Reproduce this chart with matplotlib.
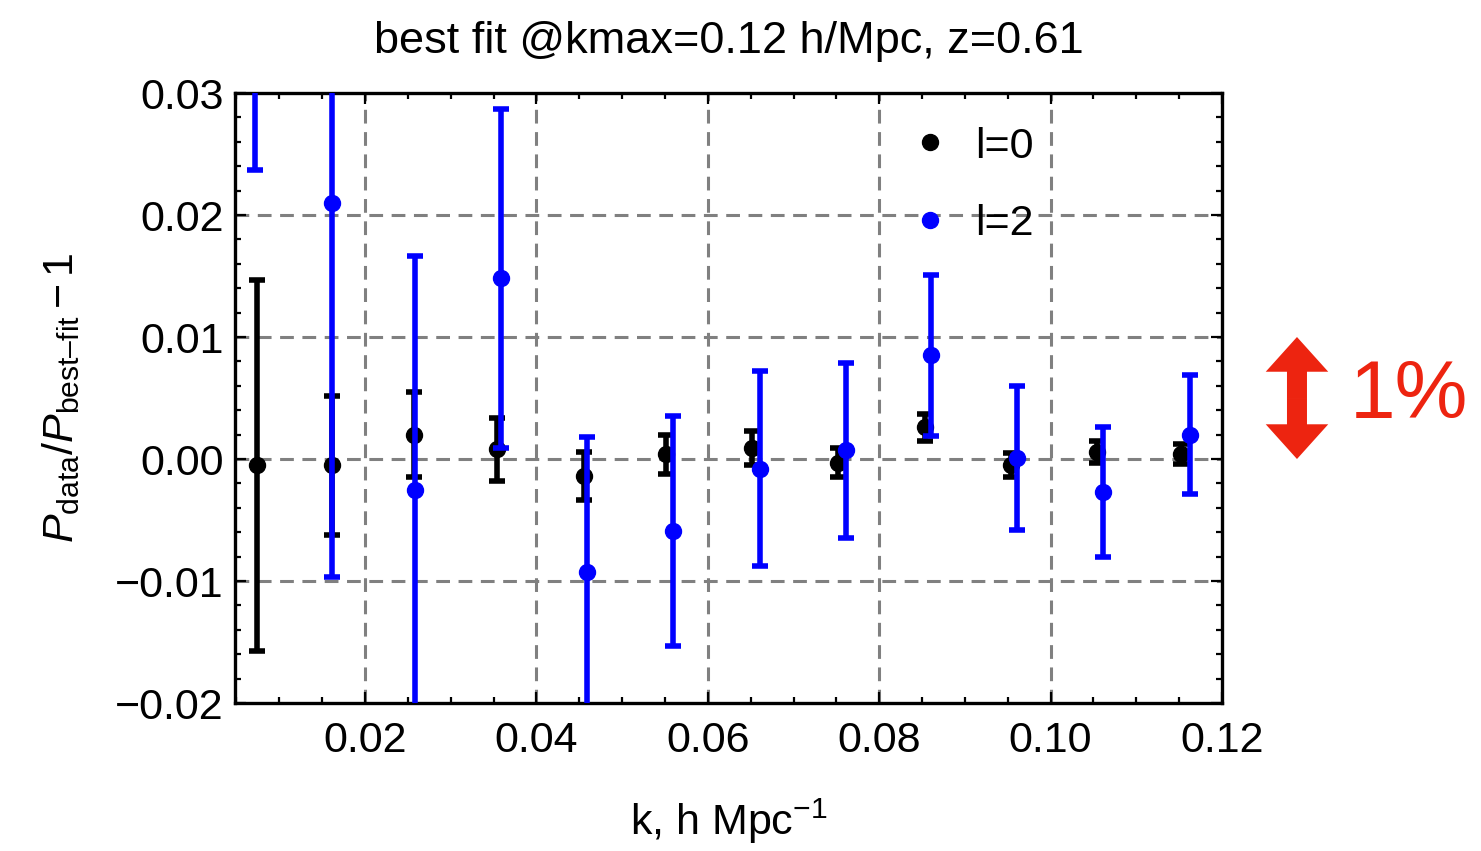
import matplotlib
matplotlib.use("Agg")
import matplotlib.pyplot as plt
from matplotlib.ticker import MultipleLocator, FuncFormatter
from matplotlib.patches import FancyArrowPatch
from matplotlib.transforms import blended_transform_factory

plt.rcParams['font.family'] = ['Liberation Sans', 'DejaVu Sans']
plt.rcParams['mathtext.fontset'] = 'custom'
plt.rcParams['mathtext.rm'] = 'Liberation Sans'
plt.rcParams['mathtext.it'] = 'Liberation Sans:italic'

# l=0 monopole residuals
k_l0 = [0.0074, 0.0161, 0.0257, 0.0354, 0.0456, 0.0551, 0.0652, 0.0752, 0.0854, 0.0954, 0.1054, 0.1152]
res_l0 = [-0.0005, -0.0005, 0.0020, 0.0008, -0.0014, 0.0004, 0.0009, -0.0003, 0.0026, -0.0005, 0.0006, 0.0004]
err_l0 = [0.0152, 0.0057, 0.0035, 0.0026, 0.0020, 0.0016, 0.0014, 0.0012, 0.0011, 0.0010, 0.0009, 0.0008]

# l=2 quadrupole residuals
k_l2 = [0.0072, 0.0161, 0.0258, 0.0359, 0.0459, 0.0559, 0.0661, 0.0761, 0.0861, 0.0961, 0.1061, 0.1163]
res_l2 = [0.0400, 0.0210, -0.0025, 0.0148, -0.0093, -0.0059, -0.0008, 0.0007, 0.0085, 0.0001, -0.0027, 0.0020]
err_l2 = [0.0163, 0.0307, 0.0191, 0.0139, 0.0111, 0.0094, 0.0080, 0.0072, 0.0066, 0.0059, 0.0053, 0.0049]

xticks = [0.02, 0.04, 0.06, 0.08, 0.10, 0.12]
yticks = [-0.02, -0.01, 0.00, 0.01, 0.02, 0.03]

fig = plt.figure(figsize=(14.81, 8.51), dpi=100)
ax = fig.add_axes([0.1587, 0.1739, 0.6664, 0.7168])

ax.errorbar(k_l0, res_l0, yerr=err_l0, fmt='o', color='black', ms=11.5,
            elinewidth=4.0, capsize=6, capthick=4.0, zorder=3)
ax.errorbar(k_l2, res_l2, yerr=err_l2, fmt='o', color='blue', ms=11.5,
            elinewidth=4.0, capsize=6, capthick=4.0, zorder=4)

ax.set_xlim(0.00483, 0.12)
ax.set_ylim(-0.02, 0.03)
ax.set_xticks(xticks)
ax.set_yticks(yticks)
ax.xaxis.set_minor_locator(MultipleLocator(0.005))
ax.yaxis.set_minor_locator(MultipleLocator(0.002))
fmt = FuncFormatter(lambda v, p: f"{v:.2f}".replace('-', '\u2212') if abs(v) > 1e-9 else "0.00")
ax.xaxis.set_major_formatter(fmt)
ax.yaxis.set_major_formatter(fmt)
ax.tick_params(which='both', direction='in', top=True, right=True, width=1.6,
               labelsize=31, colors='black')
ax.tick_params(which='major', length=8)
ax.tick_params(which='minor', length=4.5)
ax.tick_params(axis='x', pad=13)
ax.tick_params(axis='y', pad=8)
for s in ax.spines.values():
    s.set_linewidth(2.4)

for x in xticks[:-1]:
    ax.axvline(x, color='gray', lw=2.2, ls=(0, (4.5, 2.8)), zorder=1)
for y in yticks[1:-1]:
    ax.axhline(y, color='gray', lw=2.2, ls=(0, (4.5, 2.8)), zorder=1)

ax.set_title('best fit @kmax=0.12 h/Mpc, z=0.61', fontsize=32.5, pad=29)
ax.set_xlabel(r'k, h Mpc$^{-1}$', fontsize=31)
ax.xaxis.set_label_coords(0.5, -0.153)
ax.set_ylabel(r'$P_{\mathrm{data}}/P_{\mathrm{best–fit}}-1$', fontsize=31)
ax.yaxis.set_label_coords(-0.155, 0.5)

h0, = ax.plot([], [], 'o', color='black', ms=11.5)
h2, = ax.plot([], [], 'o', color='blue', ms=11.5)
ax.legend([h0, h2], ['l=0', 'l=2'], loc='upper left', bbox_to_anchor=(0.682, 0.945),
          frameon=False, fontsize=31, handlelength=1.0, handletextpad=0.55,
          labelspacing=0.86, borderpad=0, borderaxespad=0)

# 1% scale arrow to the right of the axes
red = '#ED2410'
tr = blended_transform_factory(ax.transAxes, ax.transData)
for y_end in (0.01, 0.0):
    arr = FancyArrowPatch((1.076, 0.005), (1.076, y_end), transform=tr,
                          arrowstyle='simple,head_length=25,head_width=45,tail_width=14.4',
                          mutation_scale=1, color=red, lw=0, shrinkA=0, shrinkB=0,
                          clip_on=False)
    ax.add_patch(arr)
ax.text(1.129, 0.0051, '1%', transform=tr, color=red, fontsize=59,
        ha='left', va='center', clip_on=False)

fig.savefig('out.png', dpi=100)
